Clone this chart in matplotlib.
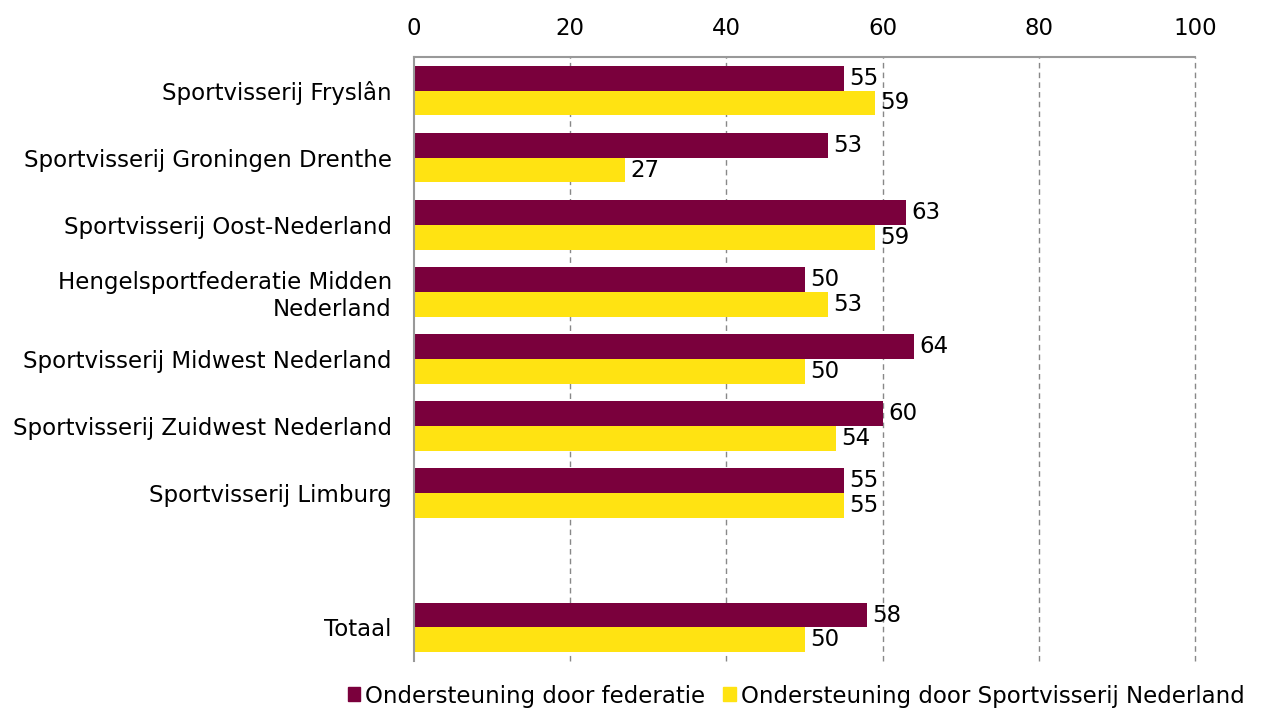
import matplotlib.pyplot as plt
from matplotlib.patches import Patch
import numpy as np

# data
categories = ['Sportvisserij Fryslân', 'Sportvisserij Groningen Drenthe',
              'Sportvisserij Oost-Nederland', 'Hengelsportfederatie Midden\nNederland',
              'Sportvisserij Midwest Nederland', 'Sportvisserij Zuidwest Nederland',
              'Sportvisserij Limburg', '', 'Totaal']
federatie = [55, 53, 63, 50, 64, 60, 55, None, 58]
sportvisserij = [59, 27, 59, 53, 50, 54, 55, None, 50]
ticks = [0, 20, 40, 60, 80, 100]

c_fed = '#7a003c'
c_sn = '#ffe312'
fs = 16.5

plt.rcParams['font.family'] = 'DejaVu Sans'

fig = plt.figure(figsize=(12.64, 7.09), dpi=100)
ax = fig.add_axes([414 / 1264, 1 - 661 / 709, (1195 - 414) / 1264, (661 - 57) / 709])

y = np.arange(len(categories))
h = 0.37
for i in range(len(categories)):
    if federatie[i] is None:
        continue
    ax.barh(y[i] - h / 2, federatie[i], height=h, color=c_fed)
    ax.barh(y[i] + h / 2, sportvisserij[i], height=h, color=c_sn)
    ax.annotate(str(federatie[i]), (federatie[i], y[i] - h / 2), xytext=(4, 0),
                textcoords='offset points', va='center', ha='left', fontsize=fs)
    ax.annotate(str(sportvisserij[i]), (sportvisserij[i], y[i] + h / 2), xytext=(4, 0),
                textcoords='offset points', va='center', ha='left', fontsize=fs)

ax.set_xlim(0, 100)
ax.set_ylim(len(categories) - 0.5, -0.5)
ax.set_yticks(y)
ax.set_yticklabels(categories, fontsize=fs)
ax.tick_params(axis='y', length=0, pad=16)
ax.set_xticks(ticks)
ax.xaxis.tick_top()
ax.tick_params(axis='x', labelsize=fs, length=0, pad=12)

for x in ticks[1:]:
    ax.axvline(x, color='#888888', linestyle=(0, (4, 3)), linewidth=1, zorder=0, clip_on=False)

for s in ['right', 'bottom']:
    ax.spines[s].set_visible(False)
ax.spines['left'].set_color('#999999')
ax.spines['left'].set_linewidth(1.5)
ax.spines['top'].set_color('#999999')
ax.spines['top'].set_linewidth(1.5)

handles = [Patch(color=c_fed, label='Ondersteuning door federatie'),
           Patch(color=c_sn, label='Ondersteuning door Sportvisserij Nederland')]
fig.legend(handles=handles, loc='center', bbox_to_anchor=(796 / 1264, 1 - 696 / 709),
           ncol=2, frameon=False, fontsize=fs, handlelength=0.55, handleheight=0.55,
           handletextpad=0.2, columnspacing=0.8, borderpad=0)

fig.savefig('out.png', dpi=100)
